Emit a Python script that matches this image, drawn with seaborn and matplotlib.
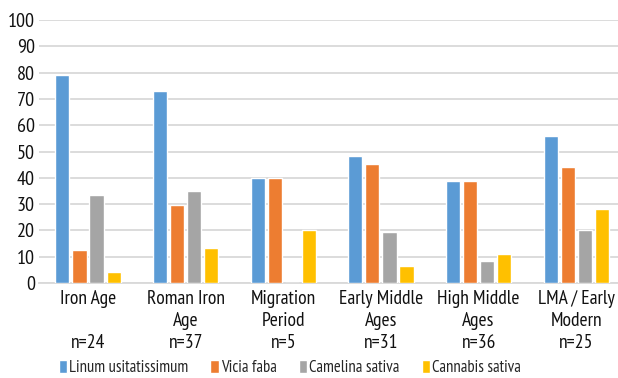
import matplotlib
matplotlib.use("Agg")
import matplotlib.pyplot as plt
import seaborn as sns
import pandas as pd

periods = ["Iron Age", "Roman Iron\nAge", "Migration\nPeriod", "Early Middle\nAges",
           "High Middle\nAges", "LMA / Early\nModern"]
sample_sizes = ["n=24", "n=37", "n=5", "n=31", "n=36", "n=25"]
species = ["Linum usitatissimum", "Vicia faba", "Camelina sativa", "Cannabis sativa"]

linum = [79.2, 73.0, 40.0, 48.4, 38.9, 56.0]
vicia = [12.5, 29.7, 40.0, 45.2, 38.9, 44.0]
camelina = [33.3, 35.1, 0.0, 19.4, 8.3, 20.0]
cannabis = [4.2, 13.5, 20.0, 6.5, 11.1, 28.0]

colors = ["#5B9BD5", "#ED7D31", "#A5A5A5", "#FFC000"]

rows = []
for sp, vals in zip(species, [linum, vicia, camelina, cannabis]):
    for p, v in zip(periods, vals):
        rows.append({"period": p, "species": sp, "value": v})
df = pd.DataFrame(rows)

sns.set_theme(style="white")
plt.rcParams["font.family"] = ["PT Sans Narrow", "DejaVu Sans"]

fig = plt.figure(figsize=(6.18, 3.78), dpi=100)
ax = fig.add_axes([0.0634, 0.2513, 0.948, 0.6958])

sns.barplot(data=df, x="period", y="value", hue="species", order=periods,
            hue_order=species, palette=colors, width=0.7, gap=0.17,
            saturation=1, errorbar=None, ax=ax, zorder=3)

ax.set_ylim(0, 100)
ax.set_xlim(-0.5, len(periods) - 0.5)
ax.set_yticks(range(0, 101, 10))
ax.yaxis.grid(True, color="#D9D9D9", linewidth=1.3, zorder=0)
ax.set_axisbelow(True)
for s in ["top", "right", "left"]:
    ax.spines[s].set_visible(False)
ax.spines["bottom"].set_color("#D9D9D9")
ax.spines["bottom"].set_linewidth(1.3)

labels = []
for p, n in zip(periods, sample_sizes):
    if "\n" in p:
        labels.append(p + "\n" + n)
    else:
        labels.append(p + "\n\n" + n)
ax.set_xticks(range(len(periods)))
ax.set_xticklabels(labels, fontsize=14, linespacing=1.28, color="#111111")
ax.tick_params(axis="x", length=0, pad=5)
ax.tick_params(axis="y", length=0, pad=3, labelsize=14.5, labelcolor="#111111")
ax.set_xlabel("")
ax.set_ylabel("")

handles, lbls = ax.get_legend_handles_labels()
ax.legend(handles, lbls, loc="lower left", bbox_to_anchor=(0.092, 0.0),
          bbox_transform=fig.transFigure, ncol=4, frameon=False, fontsize=12,
          handlelength=0.5, handleheight=0.75, handletextpad=0.15,
          columnspacing=1.3, borderaxespad=0, borderpad=0.1)

fig.savefig("out.png", dpi=100)
